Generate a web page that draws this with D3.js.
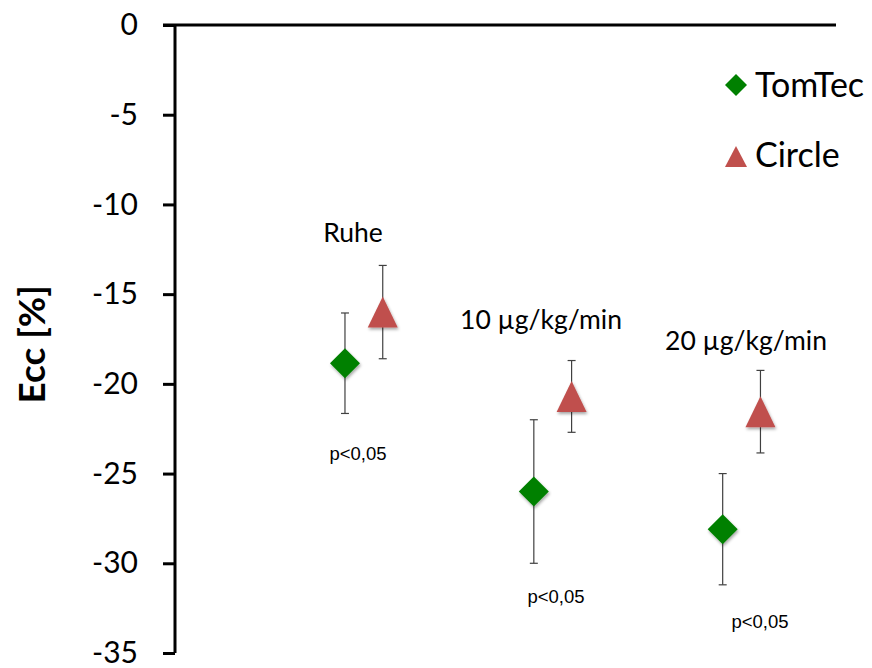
<!DOCTYPE html>
<html>
<head>
<meta charset="utf-8">
<script src="https://cdn.jsdelivr.net/npm/d3@7"></script>
<style>
  html, body { margin: 0; padding: 0; background: #fff; }
  svg { display: block; }
</style>
</head>
<body>
<script>
// ---- data ----
const categories = ["Ruhe", "10 µg/kg/min", "20 µg/kg/min"];
const seriesNames = ["TomTec", "Circle"];
const tomtecMean = [-18.85, -26.0, -28.1];
const tomtecErr  = [2.8, 4.0, 3.1];
const circleMean = [-16.0, -20.7, -21.55];
const circleErr  = [2.6, 2.0, 2.3];
const pLabels = ["p<0,05", "p<0,05", "p<0,05"];
const yTicks = [0, -5, -10, -15, -20, -25, -30, -35];
const yLabel = "Ecc [%]";

const W = 872, H = 668;
const svg = d3.select("body").append("svg").attr("width", W).attr("height", H);

const defs = svg.append("defs");
const f = defs.append("filter").attr("id", "shadow").attr("x", "-50%").attr("y", "-50%").attr("width", "200%").attr("height", "200%");
f.append("feDropShadow").attr("dx", 1).attr("dy", 2).attr("stdDeviation", 1.5).attr("flood-color", "#000").attr("flood-opacity", 0.35);

const y = d3.scaleLinear().domain([0, -35]).range([25, 653]);
const x = d3.scaleLinear().domain([0, 3.5]).range([175, 836]);
const offset = 0.1;
const FONT = "Lato, 'Open Sans', sans-serif";

// y axis
const yAxis = d3.axisLeft(y).tickValues(yTicks).tickSize(12).tickPadding(25).tickFormat(d => String(d));
const gy = svg.append("g").attr("transform", "translate(175,0)").call(yAxis);
gy.select(".domain").attr("stroke", "#000").attr("stroke-width", 3).attr("d", `M0,${y(0)}V${y(-35)}`);
gy.selectAll(".tick line").attr("stroke", "#000").attr("stroke-width", 3);
gy.selectAll(".tick text").attr("font-family", FONT).attr("font-size", 30).attr("fill", "#000");

// top horizontal axis line (x axis at 0)
svg.append("line").attr("x1", 163).attr("x2", x(3.5)).attr("y1", y(0)).attr("y2", y(0))
  .attr("stroke", "#000").attr("stroke-width", 3);

// y label
svg.append("text")
  .attr("transform", `translate(45,${y(-17.8)}) rotate(-90)`)
  .attr("text-anchor", "middle")
  .attr("font-family", FONT)
  .attr("font-weight", "bold").attr("font-size", 37)
  .text(yLabel);

function drawSeries(means, errs, dx, kind, color) {
  const g = svg.append("g");
  means.forEach((m, i) => {
    const cx = x(i + 1 + dx);
    const e = errs[i];
    g.append("line").attr("x1", cx).attr("x2", cx).attr("y1", y(m + e)).attr("y2", y(m - e))
      .attr("stroke", "#404040").attr("stroke-width", 1.2);
    [m + e, m - e].forEach(v => {
      g.append("line").attr("x1", cx - 4).attr("x2", cx + 4).attr("y1", y(v)).attr("y2", y(v))
        .attr("stroke", "#404040").attr("stroke-width", 1.2);
    });
  });
  means.forEach((m, i) => {
    const cx = x(i + 1 + dx), cy = y(m);
    if (kind === "diamond") {
      g.append("path").attr("d", `M${cx},${cy - 15}L${cx + 15},${cy}L${cx},${cy + 15}L${cx - 15},${cy}Z`)
        .attr("fill", color).attr("filter", "url(#shadow)");
    } else {
      g.append("path").attr("d", `M${cx},${cy - 15.5}L${cx + 15},${cy + 15.5}L${cx - 15},${cy + 15.5}Z`)
        .attr("fill", color).attr("filter", "url(#shadow)");
    }
  });
}
drawSeries(tomtecMean, tomtecErr, -offset, "diamond", "#008000");
drawSeries(circleMean, circleErr, offset, "triangle", "#C0504D");

// category labels
const catPos = [[353, 242], [541, 329], [746, 350]];
categories.forEach((c, i) => {
  svg.append("text").attr("x", catPos[i][0]).attr("y", catPos[i][1])
    .attr("text-anchor", "middle")
    .attr("font-family", FONT).attr("font-size", 26.5)
    .text(c);
});

// p labels
const pPos = [[358, 460], [556, 603], [760, 628]];
pLabels.forEach((p, i) => {
  svg.append("text").attr("x", pPos[i][0]).attr("y", pPos[i][1])
    .attr("text-anchor", "middle")
    .attr("font-family", "'Liberation Sans', Arial, sans-serif").attr("font-size", 18.5)
    .text(p);
});

// legend
const lg = svg.append("g");
const lx = 736;
lg.append("path").attr("d", `M${lx},${85 - 11}L${lx + 11},85L${lx},${85 + 11}L${lx - 11},85Z`).attr("fill", "#008000");
lg.append("text").attr("x", 755).attr("y", 97).attr("font-family", FONT).attr("font-size", 34).text(seriesNames[0]);
lg.append("path").attr("d", `M${lx},146L${lx + 11},167L${lx - 11},167Z`).attr("fill", "#C0504D");
lg.append("text").attr("x", 755).attr("y", 167).attr("font-family", FONT).attr("font-size", 34).text(seriesNames[1]);
</script>
</body>
</html>
